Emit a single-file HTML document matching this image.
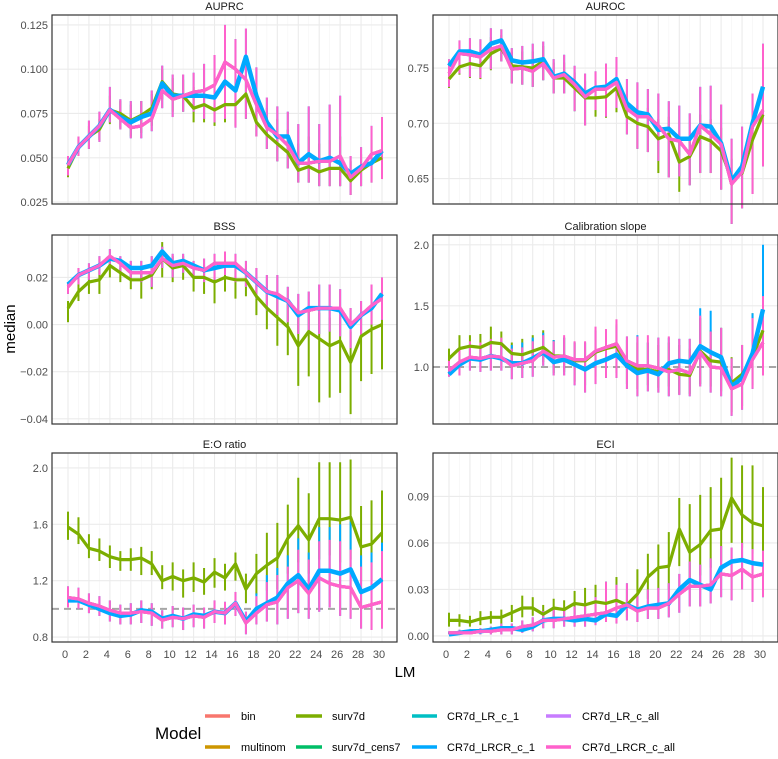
<!DOCTYPE html>
<html><head><meta charset="utf-8"><style>
body{margin:0;background:#fff;font-family:"Liberation Sans",sans-serif}
svg text{font-family:"Liberation Sans",sans-serif}
</style></head><body>
<svg id="c" width="778" height="754"></svg>
<script>
const LM=[0,1,2,3,4,5,6,7,8,9,10,11,12,13,14,15,16,17,18,19,20,21,22,23,24,25,26,27,28,29,30];
const xTicks=[0,2,4,6,8,10,12,14,16,18,20,22,24,26,28,30];

const auprcPink=[0.046,0.056,0.062,0.068,0.077,0.072,0.067,0.068,0.072,0.088,0.083,0.085,0.087,0.088,0.091,0.104,0.100,0.094,0.080,0.067,0.063,0.057,0.047,0.047,0.048,0.048,0.051,0.039,0.044,0.052,0.054];
const auprcBlue=[0.046,0.056,0.062,0.068,0.077,0.073,0.070,0.073,0.075,0.092,0.085,0.085,0.085,0.085,0.084,0.093,0.088,0.107,0.085,0.070,0.062,0.062,0.047,0.052,0.048,0.050,0.047,0.041,0.045,0.047,0.054];
const auprcGreen=[0.044,0.056,0.062,0.066,0.077,0.075,0.071,0.074,0.078,0.093,0.086,0.085,0.078,0.080,0.077,0.080,0.080,0.086,0.070,0.063,0.058,0.053,0.043,0.045,0.042,0.044,0.044,0.037,0.043,0.047,0.050];
const auprcHi=[0.051,0.062,0.071,0.076,0.090,0.083,0.082,0.082,0.088,0.102,0.097,0.097,0.098,0.103,0.108,0.125,0.117,0.123,0.101,0.084,0.079,0.076,0.069,0.079,0.069,0.080,0.085,0.051,0.056,0.068,0.073];
const auprcLo=[0.040,0.051,0.055,0.059,0.070,0.066,0.061,0.061,0.065,0.078,0.073,0.076,0.076,0.072,0.070,0.072,0.067,0.072,0.062,0.055,0.048,0.044,0.036,0.036,0.034,0.034,0.034,0.029,0.034,0.036,0.038];
const auprcGHi=[0.049,0.061,0.068,0.072,0.085,0.082,0.080,0.082,0.086,0.100,0.095,0.094,0.090,0.090,0.088,0.095,0.093,0.100,0.083,0.078,0.072,0.066,0.058,0.062,0.058,0.060,0.062,0.048,0.052,0.060,0.068];
const auprcGLo=[0.039,0.051,0.055,0.060,0.069,0.067,0.062,0.064,0.068,0.083,0.076,0.076,0.070,0.070,0.068,0.070,0.068,0.072,0.062,0.055,0.048,0.044,0.036,0.036,0.034,0.034,0.034,0.029,0.034,0.036,0.038];

const aurocPink=[0.745,0.763,0.762,0.760,0.767,0.770,0.749,0.750,0.747,0.754,0.741,0.744,0.735,0.724,0.731,0.731,0.737,0.713,0.706,0.706,0.698,0.686,0.684,0.672,0.698,0.690,0.681,0.645,0.656,0.697,0.712];
const aurocBlue=[0.752,0.765,0.765,0.762,0.772,0.775,0.757,0.755,0.756,0.758,0.742,0.745,0.737,0.727,0.732,0.733,0.740,0.718,0.710,0.708,0.694,0.695,0.686,0.686,0.698,0.697,0.682,0.648,0.661,0.700,0.733];
const aurocGreen=[0.740,0.751,0.754,0.752,0.763,0.768,0.752,0.751,0.750,0.756,0.741,0.741,0.732,0.723,0.723,0.724,0.732,0.706,0.700,0.697,0.686,0.690,0.665,0.670,0.688,0.684,0.675,0.649,0.655,0.685,0.708];
const aurocHi=[0.758,0.775,0.777,0.776,0.786,0.785,0.768,0.770,0.772,0.774,0.758,0.762,0.752,0.745,0.747,0.754,0.760,0.740,0.737,0.731,0.727,0.720,0.716,0.709,0.733,0.734,0.717,0.686,0.697,0.727,0.772];
const aurocLo=[0.733,0.745,0.742,0.741,0.749,0.756,0.736,0.735,0.733,0.739,0.727,0.727,0.711,0.698,0.712,0.706,0.714,0.690,0.677,0.674,0.666,0.651,0.652,0.644,0.655,0.655,0.640,0.609,0.623,0.636,0.661];
const aurocGHi=[0.752,0.765,0.768,0.766,0.778,0.780,0.765,0.765,0.765,0.770,0.755,0.755,0.746,0.738,0.738,0.740,0.746,0.722,0.716,0.714,0.704,0.706,0.684,0.688,0.708,0.704,0.696,0.668,0.674,0.712,0.730];
const aurocGLo=[0.732,0.744,0.741,0.740,0.748,0.756,0.736,0.735,0.733,0.739,0.727,0.727,0.711,0.698,0.706,0.705,0.710,0.690,0.677,0.674,0.655,0.651,0.638,0.644,0.655,0.655,0.640,0.609,0.623,0.636,0.661];

const bssPink=[0.016,0.021,0.023,0.025,0.029,0.026,0.022,0.022,0.022,0.028,0.025,0.026,0.024,0.023,0.026,0.026,0.026,0.022,0.018,0.014,0.013,0.010,0.005,0.006,0.007,0.007,0.007,0.000,0.004,0.008,0.011];
const bssBlue=[0.017,0.021,0.023,0.025,0.028,0.027,0.024,0.024,0.025,0.031,0.026,0.027,0.025,0.023,0.024,0.025,0.025,0.022,0.018,0.014,0.012,0.010,0.004,0.007,0.007,0.007,0.006,-0.001,0.004,0.007,0.013];
const bssGreen=[0.007,0.014,0.018,0.019,0.025,0.022,0.019,0.019,0.021,0.028,0.024,0.025,0.020,0.020,0.018,0.020,0.019,0.019,0.012,0.007,0.003,-0.001,-0.009,-0.003,-0.006,-0.009,-0.007,-0.016,-0.005,-0.002,0.000];
const bssHi=[0.018,0.024,0.026,0.029,0.032,0.029,0.027,0.027,0.029,0.033,0.030,0.030,0.027,0.028,0.030,0.031,0.030,0.027,0.024,0.021,0.021,0.016,0.013,0.014,0.017,0.017,0.015,0.007,0.010,0.017,0.020];
const bssLo=[0.013,0.017,0.019,0.021,0.025,0.022,0.019,0.018,0.016,0.024,0.020,0.022,0.020,0.018,0.019,0.021,0.018,0.016,0.011,0.006,0.004,0.001,-0.004,-0.003,-0.004,-0.003,-0.005,-0.010,-0.005,0.000,0.002];
const bssGHi=[0.010,0.017,0.021,0.023,0.028,0.024,0.022,0.022,0.024,0.035,0.029,0.029,0.024,0.025,0.022,0.025,0.024,0.024,0.018,0.015,0.012,0.010,0.006,0.007,0.005,0.003,0.003,-0.003,0.005,0.006,0.005];
const bssGLo=[0.001,0.010,0.013,0.013,0.020,0.018,0.015,0.011,0.015,0.020,0.018,0.019,0.014,0.013,0.009,0.014,0.011,0.012,0.004,-0.002,-0.009,-0.013,-0.026,-0.022,-0.033,-0.031,-0.029,-0.038,-0.024,-0.021,-0.019];

const calPink=[0.97,1.04,1.08,1.07,1.09,1.08,1.01,1.03,1.05,1.13,1.08,1.09,1.06,1.06,1.13,1.16,1.19,1.05,1.01,1.01,0.99,0.96,0.98,0.95,1.12,1.00,0.99,0.82,0.86,1.06,1.20];
const calBlue=[0.94,1.02,1.07,1.06,1.09,1.07,1.03,1.03,1.07,1.12,1.04,1.06,1.02,0.98,1.03,1.06,1.10,1.01,0.95,0.97,0.94,1.03,1.05,1.04,1.17,1.12,1.08,0.84,0.91,1.11,1.47];
const calGreen=[1.07,1.15,1.17,1.16,1.20,1.19,1.11,1.10,1.13,1.16,1.09,1.09,1.05,1.05,1.12,1.15,1.17,1.02,0.98,0.98,0.96,0.98,0.94,0.93,1.13,1.05,1.04,0.87,0.94,1.08,1.30];
const calHi=[1.05,1.15,1.21,1.20,1.23,1.24,1.15,1.16,1.21,1.26,1.21,1.26,1.21,1.21,1.33,1.31,1.39,1.25,1.25,1.26,1.24,1.25,1.23,1.23,1.42,1.29,1.32,1.07,1.18,1.40,1.58];
const calLo=[0.92,0.93,0.97,0.96,0.97,0.97,0.90,0.91,0.92,1.01,0.93,0.93,0.85,0.79,0.86,0.91,0.91,0.82,0.76,0.80,0.79,0.76,0.77,0.76,0.84,0.79,0.76,0.60,0.65,0.82,0.93];
const calBHi=[1.02,1.12,1.18,1.17,1.22,1.21,1.18,1.20,1.24,1.28,1.22,1.24,1.20,1.20,1.30,1.30,1.34,1.25,1.26,1.20,1.24,1.24,1.23,1.23,1.48,1.46,1.32,1.07,1.18,1.44,2.00];
const calGHi=[1.15,1.26,1.26,1.27,1.33,1.29,1.20,1.23,1.26,1.30,1.22,1.24,1.20,1.20,1.30,1.30,1.35,1.22,1.20,1.20,1.18,1.20,1.18,1.15,1.40,1.30,1.32,1.08,1.18,1.44,1.58];
const calGLo=[0.97,1.04,1.07,1.06,1.09,1.08,1.00,0.99,1.02,1.04,0.95,0.96,0.88,0.85,0.92,0.96,0.95,0.86,0.82,0.85,0.83,0.84,0.78,0.78,0.86,0.84,0.80,0.63,0.68,0.85,1.03];

const eoPink=[1.08,1.07,1.04,1.02,0.99,0.97,0.97,0.98,0.97,0.92,0.94,0.93,0.95,0.94,0.98,0.97,1.04,0.90,0.97,1.03,1.05,1.15,1.20,1.11,1.22,1.18,1.16,1.15,1.01,1.03,1.05];
const eoBlue=[1.06,1.06,1.03,1.00,0.97,0.95,0.96,0.99,0.98,0.93,0.95,0.93,0.96,0.95,0.98,0.97,1.04,0.91,1.00,1.04,1.08,1.18,1.24,1.14,1.27,1.27,1.25,1.28,1.12,1.15,1.21];
const eoGreen=[1.58,1.53,1.43,1.41,1.37,1.35,1.35,1.36,1.32,1.20,1.23,1.20,1.22,1.19,1.26,1.22,1.32,1.14,1.25,1.31,1.36,1.50,1.59,1.49,1.64,1.64,1.63,1.65,1.44,1.46,1.54];
const eoHi=[1.16,1.15,1.11,1.09,1.06,1.03,1.04,1.06,1.04,0.99,1.02,1.01,1.03,1.01,1.06,1.05,1.12,0.98,1.09,1.19,1.24,1.30,1.42,1.35,1.48,1.49,1.48,1.42,1.30,1.33,1.41];
const eoLo=[1.01,1.00,0.97,0.95,0.91,0.89,0.89,0.90,0.88,0.86,0.87,0.85,0.87,0.86,0.90,0.89,0.95,0.82,0.89,0.91,0.89,0.93,0.97,0.93,0.98,1.01,0.95,0.93,0.86,0.85,0.86];
const eoBHi=[1.16,1.15,1.11,1.09,1.06,1.03,1.04,1.06,1.04,0.99,1.02,1.01,1.03,1.01,1.06,1.05,1.12,0.98,1.11,1.24,1.29,1.38,1.50,1.40,1.58,1.58,1.60,1.62,1.38,1.40,1.47];
const eoGHi=[1.69,1.65,1.53,1.50,1.45,1.41,1.43,1.44,1.41,1.31,1.33,1.28,1.33,1.29,1.36,1.32,1.40,1.25,1.39,1.54,1.61,1.74,1.93,1.82,2.04,2.04,2.04,2.06,1.73,1.77,1.84];
const eoGLo=[1.49,1.46,1.36,1.34,1.29,1.27,1.27,1.24,1.24,1.14,1.13,1.08,1.12,1.10,1.15,1.13,1.20,1.04,1.10,1.13,1.14,1.25,1.33,1.25,1.35,1.38,1.33,1.35,1.20,1.20,1.25];

const eciPink=[0.002,0.002,0.002,0.003,0.003,0.004,0.004,0.006,0.007,0.010,0.010,0.011,0.012,0.013,0.014,0.015,0.018,0.020,0.016,0.018,0.018,0.021,0.027,0.032,0.032,0.033,0.040,0.039,0.043,0.038,0.040];
const eciBlue=[0.001,0.002,0.003,0.003,0.004,0.005,0.005,0.004,0.006,0.010,0.011,0.011,0.010,0.011,0.010,0.014,0.013,0.020,0.017,0.019,0.020,0.021,0.030,0.036,0.033,0.030,0.044,0.048,0.049,0.047,0.046];
const eciGreen=[0.010,0.010,0.009,0.011,0.012,0.012,0.015,0.018,0.018,0.014,0.018,0.017,0.021,0.020,0.022,0.021,0.023,0.020,0.027,0.038,0.044,0.045,0.069,0.054,0.059,0.068,0.069,0.089,0.078,0.073,0.071];
const eciHi=[0.003,0.004,0.004,0.005,0.006,0.008,0.008,0.010,0.012,0.016,0.017,0.018,0.019,0.021,0.025,0.035,0.033,0.034,0.027,0.030,0.031,0.034,0.040,0.048,0.046,0.050,0.058,0.057,0.060,0.056,0.055];
const eciLo=[0.001,0.001,0.001,0.001,0.001,0.001,0.001,0.002,0.003,0.005,0.005,0.006,0.006,0.006,0.007,0.009,0.008,0.010,0.009,0.011,0.011,0.012,0.015,0.019,0.019,0.021,0.025,0.023,0.030,0.022,0.025];
const eciGHi=[0.015,0.014,0.013,0.016,0.016,0.017,0.020,0.026,0.025,0.020,0.024,0.023,0.029,0.031,0.033,0.035,0.038,0.030,0.043,0.053,0.059,0.067,0.089,0.085,0.091,0.096,0.102,0.115,0.110,0.110,0.096];
const eciGLo=[0.006,0.006,0.006,0.007,0.008,0.008,0.009,0.012,0.013,0.008,0.012,0.012,0.014,0.013,0.014,0.013,0.014,0.012,0.016,0.024,0.030,0.030,0.045,0.036,0.039,0.044,0.048,0.060,0.057,0.053,0.048];

const modelNames=["bin","multinom","surv7d","surv7d_cens7","CR7d_LR_c_1","CR7d_LRCR_c_1","CR7d_LR_c_all","CR7d_LRCR_c_all"];
const modelColors=["#F8766D","#CD9600","#7CAE00","#00BE67","#00BFC4","#00A9FF","#C77CFF","#FF61CC"];

const NS="http://www.w3.org/2000/svg";
const svg=document.getElementById('c');
function mk(tag,attrs,parent){const e=document.createElementNS(NS,tag);for(const k in attrs)e.setAttribute(k,attrs[k]);(parent||svg).appendChild(e);return e;}

const panels=[
 {key:"auprc",title:"AUPRC",x0:52,y0:15,ymin:0.0239,ymax:0.1306,ticks:[0.025,0.050,0.075,0.100,0.125],fmt:v=>v.toFixed(3),ref:null,
  pink:auprcPink,blue:auprcBlue,green:auprcGreen,hi:auprcHi,lo:auprcLo,bhi:auprcHi,ghi:auprcGHi,glo:auprcGLo},
 {key:"auroc",title:"AUROC",x0:433,y0:15,ymin:0.627,ymax:0.798,ticks:[0.65,0.70,0.75],fmt:v=>v.toFixed(2),ref:null,
  pink:aurocPink,blue:aurocBlue,green:aurocGreen,hi:aurocHi,lo:aurocLo,bhi:aurocHi,ghi:aurocGHi,glo:aurocGLo},
 {key:"bss",title:"BSS",x0:52,y0:235,ymin:-0.0422,ymax:0.038,ticks:[-0.04,-0.02,0.00,0.02],fmt:v=>(v<0?"\u2212":"")+Math.abs(v).toFixed(2),ref:null,
  pink:bssPink,blue:bssBlue,green:bssGreen,hi:bssHi,lo:bssLo,bhi:bssHi,ghi:bssGHi,glo:bssGLo},
 {key:"cal",title:"Calibration slope",x0:433,y0:235,ymin:0.533,ymax:2.08,ticks:[1.0,1.5,2.0],fmt:v=>v.toFixed(1),ref:1,
  pink:calPink,blue:calBlue,green:calGreen,hi:calHi,lo:calLo,bhi:calBHi,ghi:calGHi,glo:calGLo},
 {key:"eo",title:"E:O ratio",x0:52,y0:453,ymin:0.765,ymax:2.106,ticks:[0.8,1.2,1.6,2.0],fmt:v=>v.toFixed(1),ref:1,
  pink:eoPink,blue:eoBlue,green:eoGreen,hi:eoHi,lo:eoLo,bhi:eoBHi,ghi:eoGHi,glo:eoGLo},
 {key:"eci",title:"ECI",x0:433,y0:453,ymin:-0.0039,ymax:0.118,ticks:[0.00,0.03,0.06,0.09],fmt:v=>v.toFixed(2),ref:null,
  pink:eciPink,blue:eciBlue,green:eciGreen,hi:eciHi,lo:eciLo,bhi:eciHi,ghi:eciGHi,glo:eciGLo}
];
const PW=345,PH=189;

panels.forEach((p,pi)=>{
  const g=mk('g',{});
  
  
  const xs=lm=>p.x0+16+lm*(314/30);
  const ys=v=>p.y0+PH-(v-p.ymin)/(p.ymax-p.ymin)*PH;
  const t=mk('text',{x:p.x0+PW/2,y:p.y0-5,'text-anchor':'middle','font-size':11,fill:'#1a1a1a'},g);
  t.textContent=p.title;
  
  
  // grid
  xTicks.forEach(v=>{mk('line',{x1:xs(v),x2:xs(v),y1:p.y0,y2:p.y0+PH,stroke:'#ebebeb','stroke-width':1.1},g);});
  xTicks.forEach(v=>{if(v<30)mk('line',{x1:xs(v+1),x2:xs(v+1),y1:p.y0,y2:p.y0+PH,stroke:'#f4f4f4','stroke-width':0.6},g);});
  p.ticks.forEach(v=>{
    mk('line',{x1:p.x0,x2:p.x0+PW,y1:ys(v),y2:ys(v),stroke:'#ebebeb','stroke-width':1.1},g);
    const tl=mk('text',{x:p.x0-4,y:ys(v)+4,'text-anchor':'end','font-size':11,fill:'#4d4d4d'},g);
    tl.textContent=p.fmt(v);
    
    
  });
  if(p.ref!==null){
    const rl=mk('line',{x1:p.x0,x2:p.x0+PW,y1:ys(p.ref),y2:ys(p.ref),stroke:'#a6a6a6','stroke-width':2,'stroke-dasharray':'7,5'},g);
    
    
  }
  // error bars
  const bars=[[p.green,p.glo,p.ghi,modelColors[2]],[p.blue,p.lo,p.bhi,modelColors[5]],[p.pink,p.lo,p.hi,modelColors[7]]];
  bars.forEach(([m,lo,hi,col])=>{
    LM.forEach((lm,i)=>{
      const b=mk('line',{x1:xs(lm),x2:xs(lm),y1:ys(lo[i]),y2:ys(hi[i]),stroke:col,'stroke-width':2},g);
      
      
    });
  });
  const seriesData=[p.pink,p.pink,p.green,p.blue,p.blue,p.blue,p.pink,p.pink];
  seriesData.forEach((arr,si)=>{
    const d=LM.map((lm,i)=>(i?'L':'M')+xs(lm).toFixed(1)+','+ys(arr[i]).toFixed(1)).join('');
    const w=(si===5)?4.5:3.2;
    const l=mk('path',{d:d,fill:'none',stroke:modelColors[si],'stroke-width':w,'stroke-linejoin':'round'},g);
    
    
  });
  mk('rect',{x:p.x0,y:p.y0,width:PW,height:PH,fill:'none',stroke:'#333','stroke-width':1.2},g);
  if(pi>=4){
    xTicks.forEach(v=>{
      const xl=mk('text',{x:xs(v)-3,y:p.y0+PH+16,'text-anchor':'middle','font-size':11,fill:'#4d4d4d'},g);
      xl.textContent=v;
      
      
    });
  }
});
</script>
<svg width="778" height="754" style="position:absolute;left:0;top:0">
<text x="15" y="329" transform="rotate(-90 15 329)" text-anchor="middle" font-size="15" fill="#000">median</text>
<text x="405" y="677" text-anchor="middle" font-size="15" fill="#000">LM</text>
<g>
<text x="155" y="739" font-size="17" fill="#000">Model</text>
<g><line x1="205" x2="230" y1="716" y2="716" stroke="#F8766D" stroke-width="3.5"/><text x="241" y="720" font-size="11">bin</text></g>
<g><line x1="205" x2="230" y1="747" y2="747" stroke="#CD9600" stroke-width="3.5"/><text x="241" y="751" font-size="11">multinom</text></g>
<g><line x1="296" x2="322" y1="716" y2="716" stroke="#7CAE00" stroke-width="3.5"/><text x="332" y="720" font-size="11">surv7d</text></g>
<g><line x1="296" x2="322" y1="747" y2="747" stroke="#00BE67" stroke-width="3.5"/><text x="332" y="751" font-size="11">surv7d_cens7</text></g>
<g><line x1="412" x2="437" y1="716" y2="716" stroke="#00BFC4" stroke-width="3.5"/><text x="447" y="720" font-size="11">CR7d_LR_c_1</text></g>
<g><line x1="412" x2="437" y1="747" y2="747" stroke="#00A9FF" stroke-width="3.5"/><text x="447" y="751" font-size="11">CR7d_LRCR_c_1</text></g>
<g><line x1="546" x2="571" y1="716" y2="716" stroke="#C77CFF" stroke-width="3.5"/><text x="582" y="720" font-size="11">CR7d_LR_c_all</text></g>
<g><line x1="546" x2="571" y1="747" y2="747" stroke="#FF61CC" stroke-width="3.5"/><text x="582" y="751" font-size="11">CR7d_LRCR_c_all</text></g>
</g>
</svg>
</body></html>
